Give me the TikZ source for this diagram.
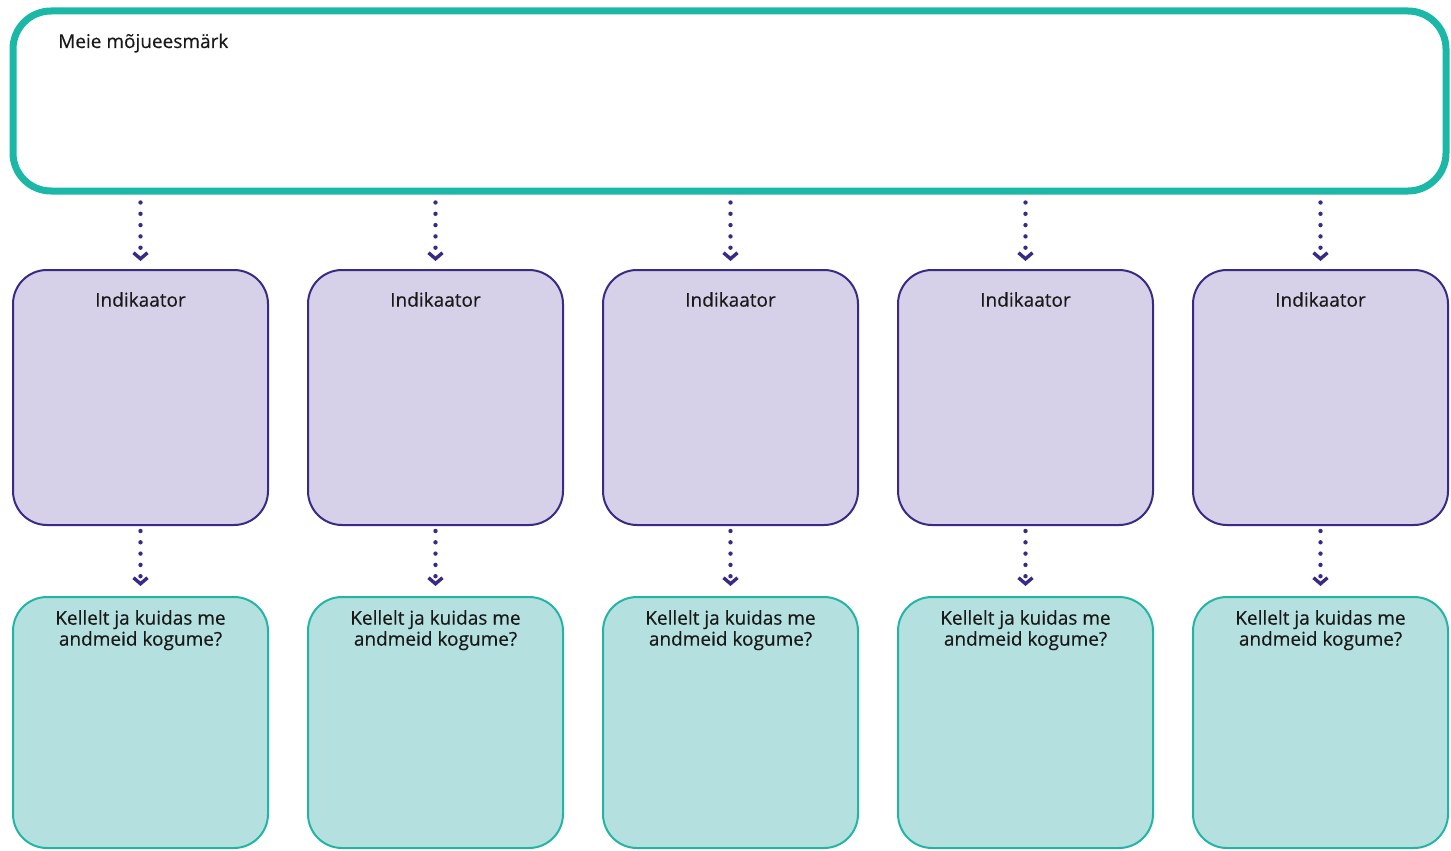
\documentclass[tikz,border=0pt]{standalone}
\usepackage{fontspec}
\setmainfont{Open Sans}
\newfontfamily\labelfont[FakeBold=0.35]{Open Sans}
\usetikzlibrary{arrows.meta}
\definecolor{goalteal}{HTML}{1BB8A8}
\definecolor{indfill}{HTML}{D6D1E8}
\definecolor{indline}{HTML}{3A2A86}
\definecolor{colfill}{HTML}{B4E1E0}
\definecolor{colline}{HTML}{22B5A5}
\tikzset{
  goalbox/.style={draw=goalteal, line width=7pt, rounded corners=38pt,
    minimum width=1433pt, minimum height=180pt, inner sep=0pt},
  indbox/.style={draw=indline, fill=indfill, line width=2pt, rounded corners=34pt,
    minimum width=255pt, minimum height=255pt, inner sep=0pt},
  colbox/.style={draw=colline, fill=colfill, line width=2pt, rounded corners=34pt,
    minimum width=255pt, minimum height=251pt, inner sep=0pt},
  boxtext/.style={font=\labelfont\fontsize{19}{22}\selectfont, text=black!90, inner sep=0pt,
    align=center},
  flow/.style={draw=indline, line width=4.4pt, line cap=round,
    dash pattern=on 0pt off 11.3pt,
    -{Straight Barb[length=6pt, width=14pt, line width=3.4pt]}},
}
\begin{document}
\begin{tikzpicture}[x=1pt,y=-1pt]
  \useasboundingbox (0,0) rectangle (1451,851);

  % impact goal frame
  \node[goalbox] (goal) at (729.5,101) {};
  \node[boxtext, anchor=base west] (goaltext) at (58,48) {Meie mõjueesmärk};

  % five columns: indicator box above data collection box
  \foreach \i/\x in {1/140.5, 2/435.5, 3/730.5, 4/1025.5, 5/1320.5}{
    \node[indbox] (ind\i) at (\x,397.5) {};
    \node[boxtext] (indtext\i) at (\x,299.5) {Indikaator};
    \node[colbox] (col\i) at (\x,722.5) {};
    \node[boxtext, anchor=north] (coltext\i) at (\x,610)
      {Kellelt ja kuidas me\\[-1pt]andmeid kogume?};
    \draw[flow] ([yshift=-8pt]goal.south -| ind\i.north) -- ([yshift=8pt]ind\i.north);
    \draw[flow] ([yshift=-5pt]ind\i.south) -- ([yshift=10pt]col\i.north);
  }
\end{tikzpicture}
\end{document}
